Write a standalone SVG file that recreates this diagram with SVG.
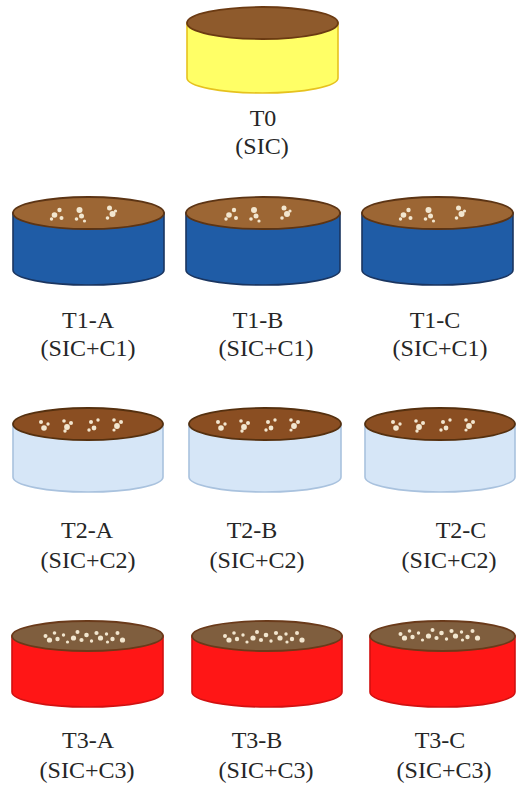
<svg xmlns="http://www.w3.org/2000/svg" xmlns:xlink="http://www.w3.org/1999/xlink" width="516" height="787" viewBox="0 0 516 787">
  <style>
    text { font-family: 'Liberation Serif', 'DejaVu Serif', serif; font-size: 24px; fill: #262626; text-anchor: middle; }
    .body { stroke-width: 1.6; }
    .soil { stroke-width: 1.8; }
    .t0 .body { fill: #FFFF66; stroke: #E6C21E; }
    .t0 .soil { fill: #8E5A2C; stroke: #6B3A12; }
    .c1 .body { fill: #1F5CA6; stroke: #1A3560; }
    .c1 .soil { fill: #9C6634; stroke: #5C3414; }
    .c2 .body { fill: #D6E6F7; stroke: #A9C2DE; }
    .c2 .soil { fill: #8A4E22; stroke: #55300F; }
    .c3 .body { fill: #FF1616; stroke: #D21010; }
    .c3 .soil { fill: #7F5E3E; stroke: #6A3A1A; }
    .spk circle { fill: #F2E6CF; }
  </style>
  <defs>
    <filter id="soft" x="-20%" y="-50%" width="140%" height="200%">
      <feGaussianBlur stdDeviation="0.6"/>
    </filter>
    <!-- seed clusters scattered on the soil surface, centred on (0,0) -->
    <g id="spk-a" class="spk" filter="url(#soft)">
      <circle cx="-34" cy="2" r="2.8"/><circle cx="-29" cy="-3" r="2.2"/><circle cx="-27" cy="5" r="2"/><circle cx="-37" cy="6" r="1.7"/>
      <circle cx="-9" cy="-3" r="3"/><circle cx="-7" cy="3" r="2.5"/><circle cx="-12" cy="6" r="1.8"/><circle cx="-4" cy="8" r="1.6"/>
      <circle cx="21" cy="-5" r="2.5"/><circle cx="24" cy="1" r="3"/><circle cx="19" cy="5" r="1.8"/><circle cx="27" cy="-2" r="1.6"/>
    </g>
    <g id="spk-b" class="spk" filter="url(#soft)">
      <circle cx="-47" cy="-2" r="2"/><circle cx="-44" cy="4" r="2.8"/><circle cx="-40" cy="0" r="1.7"/>
      <circle cx="-24" cy="-3" r="1.8"/><circle cx="-21" cy="3" r="2.9"/><circle cx="-17" cy="-1" r="2"/><circle cx="-23" cy="7" r="1.7"/>
      <circle cx="3" cy="-2" r="2"/><circle cx="6" cy="4" r="2.4"/><circle cx="10" cy="-4" r="1.7"/><circle cx="1" cy="6" r="1.7"/>
      <circle cx="26" cy="-4" r="1.8"/><circle cx="29" cy="2" r="2.9"/><circle cx="33" cy="-2" r="2"/><circle cx="26" cy="6" r="1.6"/>
    </g>
    <g id="spk-c" class="spk" filter="url(#soft)">
      <circle cx="-42" cy="0" r="2"/><circle cx="-38" cy="4" r="2.6"/><circle cx="-33" cy="-3" r="1.8"/><circle cx="-30" cy="3" r="2.2"/>
      <circle cx="-24" cy="-1" r="1.7"/><circle cx="-14" cy="2" r="2.6"/><circle cx="-10" cy="-4" r="2"/><circle cx="-6" cy="4" r="2.1"/>
      <circle cx="-1" cy="-1" r="2.3"/><circle cx="4" cy="5" r="1.7"/><circle cx="9" cy="-3" r="2.1"/><circle cx="13" cy="2" r="2.6"/>
      <circle cx="19" cy="-2" r="1.7"/><circle cx="25" cy="3" r="2.2"/><circle cx="30" cy="-3" r="2"/><circle cx="35" cy="4" r="2.6"/>
      <circle cx="-20" cy="6" r="1.6"/><circle cx="20" cy="6" r="1.6"/>
    </g>
  </defs>

  <!-- control -->
  <g id="dish-t0" class="t0">
    <path class="body" d="M187,23 V78 A75.5,15 0 0 0 338,78 V23 Z"/>
    <ellipse class="soil" cx="262.5" cy="23" rx="75.5" ry="16"/>
    <text x="263" y="126" font-family="Liberation Serif, DejaVu Serif, serif">T0</text>
    <text x="262" y="154" font-family="Liberation Serif, DejaVu Serif, serif">(SIC)</text>
  </g>

  <!-- treatment 1 -->
  <g id="dish-t1a" class="c1">
    <path class="body" d="M13,213 V270 A75.5,15 0 0 0 164,270 V213 Z"/>
    <ellipse class="soil" cx="88.5" cy="213" rx="75.5" ry="16"/>
    <use xlink:href="#spk-a" x="88.5" y="213"/>
    <text x="88" y="328">T1-A</text>
    <text x="88" y="356">(SIC+C1)</text>
  </g>
  <g id="dish-t1b" class="c1">
    <path class="body" d="M186,213 V270 A77,15 0 0 0 340,270 V213 Z"/>
    <ellipse class="soil" cx="263" cy="213" rx="77" ry="16"/>
    <use xlink:href="#spk-a" x="263" y="213"/>
    <text x="258" y="328">T1-B</text>
    <text x="266" y="356">(SIC+C1)</text>
  </g>
  <g id="dish-t1c" class="c1">
    <path class="body" d="M362,213 V270 A75.5,15 0 0 0 513,270 V213 Z"/>
    <ellipse class="soil" cx="437.5" cy="213" rx="75.5" ry="16"/>
    <use xlink:href="#spk-a" x="437.5" y="213"/>
    <text x="435" y="328">T1-C</text>
    <text x="440" y="356">(SIC+C1)</text>
  </g>

  <!-- treatment 2 -->
  <g id="dish-t2a" class="c2">
    <path class="body" d="M13,424 V477 A75,15 0 0 0 163,477 V424 Z"/>
    <ellipse class="soil" cx="88" cy="424" rx="75" ry="16"/>
    <use xlink:href="#spk-b" x="88" y="424"/>
    <text x="87" y="538">T2-A</text>
    <text x="88" y="568">(SIC+C2)</text>
  </g>
  <g id="dish-t2b" class="c2">
    <path class="body" d="M189,424 V477 A76,15 0 0 0 341,477 V424 Z"/>
    <ellipse class="soil" cx="265" cy="424" rx="76" ry="16"/>
    <use xlink:href="#spk-b" x="265" y="424"/>
    <text x="252" y="538">T2-B</text>
    <text x="257" y="568">(SIC+C2)</text>
  </g>
  <g id="dish-t2c" class="c2">
    <path class="body" d="M365,424 V477 A75,15 0 0 0 515,477 V424 Z"/>
    <ellipse class="soil" cx="440" cy="424" rx="75" ry="16"/>
    <use xlink:href="#spk-b" x="440" y="424"/>
    <text x="461" y="538">T2-C</text>
    <text x="449" y="568">(SIC+C2)</text>
  </g>

  <!-- treatment 3 -->
  <g id="dish-t3a" class="c3">
    <path class="body" d="M12,636 V692 A75.5,15 0 0 0 163,692 V636 Z"/>
    <ellipse class="soil" cx="87.5" cy="636" rx="75.5" ry="15"/>
    <use xlink:href="#spk-c" x="87.5" y="636"/>
    <text x="88" y="748">T3-A</text>
    <text x="87" y="778">(SIC+C3)</text>
  </g>
  <g id="dish-t3b" class="c3">
    <path class="body" d="M192,636 V692 A75,15 0 0 0 342,692 V636 Z"/>
    <ellipse class="soil" cx="267" cy="636" rx="75" ry="15"/>
    <use xlink:href="#spk-c" x="267" y="636"/>
    <text x="257" y="748">T3-B</text>
    <text x="266" y="778">(SIC+C3)</text>
  </g>
  <g id="dish-t3c" class="c3">
    <path class="body" d="M370,636 V692 A72.5,15 0 0 0 515,692 V636 Z"/>
    <ellipse class="soil" cx="442.5" cy="636" rx="72.5" ry="15"/>
    <use xlink:href="#spk-c" x="442.5" y="634"/>
    <text x="440" y="748">T3-C</text>
    <text x="444" y="778">(SIC+C3)</text>
  </g>
</svg>
